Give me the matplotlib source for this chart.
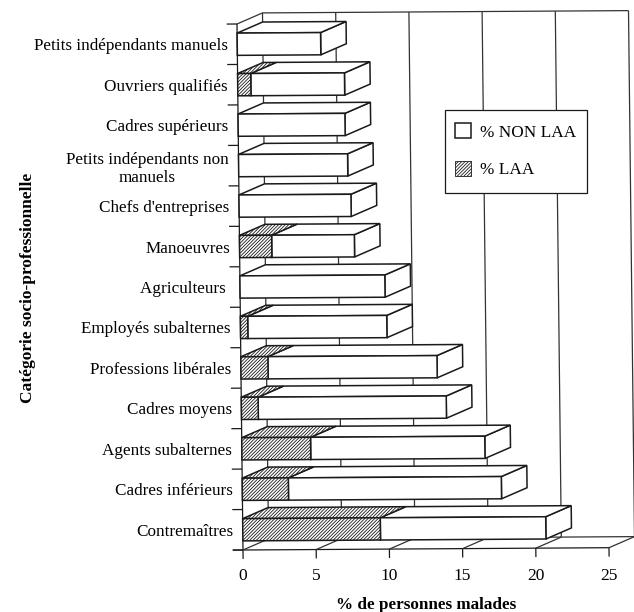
import matplotlib
matplotlib.use('Agg')
import matplotlib.pyplot as plt
from matplotlib.patches import Polygon, Patch, Rectangle
from matplotlib.transforms import Affine2D

plt.rcParams['font.family'] = ['Liberation Serif', 'DejaVu Serif']
plt.rcParams['hatch.linewidth'] = 0.6

categories = ['Petits indépendants manuels', 'Ouvriers qualifiés', 'Cadres supérieurs',
              'Petits indépendants non\nmanuels', "Chefs d'entreprises", 'Manoeuvres',
              'Agriculteurs ', 'Employés subalternes', 'Professions libérales',
              'Cadres moyens', 'Agents subalternes', 'Cadres inférieurs', 'Contremaîtres']
pct_laa = [0, 0.9, 0, 0, 0, 2.2, 0, 0.5, 1.85, 1.15, 4.7, 3.15, 9.4]
pct_non_laa = [5.7, 6.4, 7.3, 7.45, 7.65, 5.65, 9.9, 9.5, 11.55, 12.85, 11.9, 14.55, 11.3]
x_ticks = [0, 5, 10, 15, 20, 25]

# depth of the fake 3d, in data units
dx = 1.75
dy = -0.27
bar_h = 0.55
ink = '#1a1a1a'
grid = '#333333'
hatch = '//////////'

fig = plt.figure(figsize=(6.34, 6.12), dpi=100)
ax = fig.add_axes([243 / 634, 1 - 550 / 612, 366 / 634, 526 / 612])
ax.set_xlim(0, 25)
ax.set_ylim(12.5, -0.5)
for s in ax.spines.values():
    s.set_visible(False)

# the scan is slightly crooked: x drifts with the row, row drifts with x
tilt = Affine2D.from_values(1, -0.00227, 0.0315, 1, -0.0315 * 12.5, 0)
tr = tilt + ax.transData


def line(xs, ys, color=grid, lw=0.9, z=1):
    ax.plot(xs, ys, color=color, lw=lw, transform=tr, zorder=z, clip_on=False, solid_capstyle='butt')


def face(pts, hatched=False, z=3):
    ax.add_patch(Polygon(pts, closed=True, facecolor='white', edgecolor=ink, lw=1.1,
                         hatch=hatch if hatched else None, transform=tr, zorder=z,
                         clip_on=False, joinstyle='miter'))


# walls and floor
top, bottom = -0.5, 12.5
line([0, 0], [top, bottom], color=ink)
line([0, dx, 25 + dx], [top, top + dy, top + dy])
line([-0.7, 25], [bottom, bottom], color=ink)
for t in x_ticks:
    line([t + dx, t + dx], [top + dy, bottom + dy])
    line([t, t + dx], [bottom, bottom + dy])
    line([t, t], [bottom, bottom + 0.22], color=ink)
line([dx, 25 + dx], [bottom + dy, bottom + dy])
for i in range(len(categories) + 1):
    line([-0.7, 0], [top + i, top + i], color=ink)

# bars, back to front
for i in range(len(categories)):
    laa = pct_laa[i]
    total = laa + pct_non_laa[i]
    y0, y1 = i - bar_h / 2, i + bar_h / 2
    # end cap and top, then the front faces
    face([(total, y0), (total + dx, y0 + dy), (total + dx, y1 + dy), (total, y1)], z=3 + i)
    face([(laa, y0), (laa + dx, y0 + dy), (total + dx, y0 + dy), (total, y0)], z=3 + i)
    face([(laa, y0), (total, y0), (total, y1), (laa, y1)], z=3 + i)
    if laa > 0:
        face([(0, y0), (dx, y0 + dy), (laa + dx, y0 + dy), (laa, y0)], hatched=True, z=3 + i)
        face([(0, y0), (laa, y0), (laa, y1), (0, y1)], hatched=True, z=3 + i)

ax.set_xticks(x_ticks)
ax.set_xticklabels([str(t) for t in x_ticks], fontsize=12.5)
ax.tick_params(axis='x', length=0, pad=13)
ax.set_yticks(range(len(categories)))
ax.set_yticklabels(categories, fontsize=12.3)
ax.tick_params(axis='y', length=0, pad=7)
for i, lab in enumerate(ax.get_yticklabels()):
    lab.set_multialignment('center')
    lab.set_x((i - 12.5) * 0.0315 / 25)

ax.set_xlabel('% de personnes malades', fontweight='bold', fontsize=12.3)
ax.xaxis.set_label_coords(0.5, -0.09)
ax.set_ylabel('Catégorie socio-professionnelle', fontweight='bold', fontsize=12.5)
ax.yaxis.set_label_coords(-0.565, 0.498)

# legend box drawn apart, its height does not follow the entries in the original
ax.add_patch(Rectangle((445 / 634, 1 - 192.7 / 612), 142 / 634, 82.7 / 612, facecolor='white',
                       edgecolor=ink, lw=0.9, transform=fig.transFigure, zorder=29, clip_on=False))
handles = [Patch(facecolor='white', edgecolor=ink, lw=1.1, label='% NON LAA'),
           Patch(facecolor='white', edgecolor=ink, lw=0.6, hatch=hatch, label='% LAA')]
leg = ax.legend(handles=handles, loc='upper left', bbox_to_anchor=(445 / 634, 1 - 113 / 612),
                bbox_transform=fig.transFigure, fontsize=12.4, frameon=False,
                handlelength=0.93, handleheight=0.93, labelspacing=1.2,
                borderpad=0.6, handletextpad=0.52, borderaxespad=0)
leg.set_zorder(30)

fig.savefig('out.png', dpi=100)
